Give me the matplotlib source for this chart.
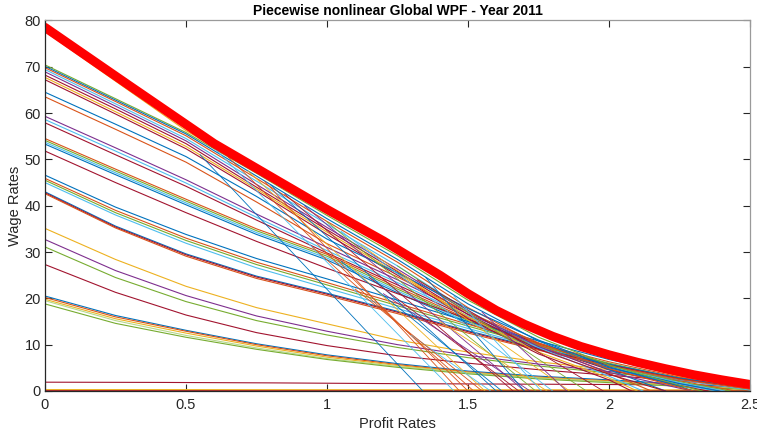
import matplotlib
matplotlib.use("Agg")
import matplotlib.pyplot as plt

# MATLAB default colour order
BLUE, ORANGE, YELLOW, PURPLE, GREEN, CYAN, DRED = (
    '#0072BD', '#D95319', '#EDB120', '#7E2F8E', '#77AC30', '#4DBEEE', '#A2142F')

# profit rates at which the curves were read
R_GRID = [0, 0.25, 0.5, 0.75, 1.0, 1.25, 1.5, 1.75, 2.0, 2.25, 2.5]

# global envelope (thick red)
envelope_r = [0, 0.3, 0.6, 0.8, 1.0, 1.2, 1.4, 1.5, 1.6, 1.7, 1.8, 1.9,
              2.0, 2.1, 2.2, 2.3, 2.4, 2.5]
envelope_w = [78.5, 65.9, 53.4, 46.3, 39.2, 32.4, 25.0, 21.0, 17.4, 14.4, 11.8, 9.6,
              7.8, 6.2, 4.8, 3.5, 2.4, 1.4]

# upper curves (start 63-78), wage values on R_GRID, then zero at end_r
top_w = [
    [77.6, 66.9, 56.2, 47.4, 38.4, 30.0, 20.2, 12.6, 7.0, 3.2, 0.6],
    [70.4, 63.1, 55.8, 47.0, 37.9, 29.2, 19.6, 11.6, 5.6, 1.2],
    [70.1, 62.8, 55.5, 46.4, 37.2, 28.4, 18.8, 10.8, 4.6],
    [69.8, 62.5, 55.1, 45.9, 36.6, 27.8, 18.0, 10.0, 3.8],
    [69.4, 62.0, 54.5, 45.3, 36.0, 27.0, 17.3, 9.4, 3.2],
    [68.9, 61.5, 54.0, 44.6, 35.3, 26.3, 17.0, 9.6, 4.0, 0.6],
    [68.2, 60.9, 53.4, 44.0, 34.8, 25.8, 16.5, 9.0, 3.6],
    [67.7, 60.3, 52.8, 43.6, 34.3, 25.4, 16.0, 8.4, 2.8],
    [67.2, 59.8, 52.3, 43.2, 33.8, 25.0, 15.6, 8.0, 2.4],
    [64.5, 57.6, 50.6, 42.0, 32.8, 25.5, 17.8, 11.0, 5.2, 1.0],
    [63.5, 56.5, 49.4, 40.8, 31.8, 24.6, 17.0, 10.4, 4.8, 0.8],
]
top_end = [None, 2.33, 2.2, 2.15, 2.12, 2.3, 2.2, 2.1, 2.08, 2.3, 2.3]
top_col = [YELLOW, GREEN, BLUE, ORANGE, CYAN, PURPLE, DRED, YELLOW, DRED, BLUE, ORANGE]

# middle curves (start 42-60)
mid_w = [
    [59.3, 52.5, 45.6, 38.2, 31.0, 24.0, 16.6, 10.2, 5.0, 1.6],
    [58.6, 51.8, 44.9, 37.5, 30.3, 23.4, 16.2, 9.9, 4.8, 1.4],
    [57.9, 51.0, 44.2, 36.9, 29.8, 22.9, 15.9, 9.6, 4.6, 1.2],
    [54.5, 47.9, 41.4, 35.0, 29.5, 22.4, 15.5, 10.2, 5.6, 2.2],
    [54.1, 47.5, 41.0, 34.6, 29.1, 22.0, 15.2, 9.9, 5.4, 2.0],
    [53.7, 47.1, 40.6, 34.2, 28.7, 21.6, 14.9, 9.6, 5.2, 1.8],
    [53.3, 46.7, 40.2, 33.8, 28.3, 21.2, 14.6, 9.3, 5.0, 1.6],
    [51.8, 45.0, 38.5, 32.3, 26.5, 21.0, 15.5, 10.3, 5.8, 2.4, 0.3],
    [46.6, 39.7, 33.8, 28.6, 24.2, 19.6, 15.0, 10.8, 6.8, 3.4, 0.8],
    [45.9, 39.0, 33.0, 27.8, 23.4, 18.9, 14.4, 10.2, 6.3, 3.0, 0.5],
    [45.5, 38.5, 32.5, 27.3, 22.9, 18.4, 14.0, 9.8, 6.0, 2.7, 0.3],
    [45.0, 38.0, 31.9, 26.6, 22.2, 17.8, 13.5, 9.4, 5.6, 2.4, 0.2],
    [43.0, 35.6, 29.6, 24.8, 21.1, 17.2, 13.0, 9.2, 5.8, 2.8, 0.6],
    [42.8, 35.4, 29.4, 24.6, 20.9, 17.0, 12.8, 9.0, 5.6, 2.6, 0.5],
    [42.6, 35.2, 29.1, 24.3, 20.6, 16.7, 12.5, 8.8, 5.4, 2.5, 0.4],
]
mid_end = [2.4, 2.38, 2.35, 2.45, 2.43, 2.41, 2.39, None, None, None, None, None, None, None, None]
mid_col = [PURPLE, CYAN, DRED, ORANGE, GREEN, CYAN, BLUE, DRED,
           BLUE, ORANGE, GREEN, CYAN, BLUE, DRED, ORANGE]

# lower curves (start 18-36)
low_w = [
    [35.1, 28.4, 22.6, 18.0, 14.5, 11.0, 8.4, 6.3, 4.6, 3.0, 1.6],
    [32.7, 26.0, 20.6, 16.2, 12.9, 10.0, 7.7, 5.8, 4.2, 2.8, 1.4],
    [31.1, 24.5, 19.3, 15.2, 12.1, 9.4, 7.2, 5.4, 3.9, 2.5, 1.2],
    [27.3, 21.3, 16.4, 12.6, 9.8, 7.6, 6.0, 4.6, 3.4, 2.2, 1.0],
    [20.5, 16.3, 13.1, 10.2, 7.8, 5.9, 4.3, 3.2, 2.4, 1.5, 0.7],
    [20.2, 16.0, 12.9, 10.0, 7.6, 5.7, 4.1, 3.0, 2.2, 1.3, 0.5],
    [19.8, 15.6, 12.5, 9.7, 7.3, 5.5, 4.0, 2.9, 2.1, 1.2, 0.4],
    [19.5, 15.2, 12.0, 9.3, 7.0, 5.3, 3.9, 2.8, 2.0, 1.1, 0.35],
    [18.8, 14.6, 11.6, 9.0, 6.8, 5.1, 3.7, 2.6, 1.8, 1.0, 0.3],
]
low_col = [YELLOW, PURPLE, GREEN, DRED, BLUE, ORANGE, YELLOW, '#B5D98A', GREEN]

# steep pieces: start (r, w) and profit rate where wage reaches zero
steep_r0 = [0.55, 0.60, 0.65, 0.72, 0.80, 0.85, 0.92, 1.00, 1.05, 1.12, 0.95, 1.05,
            1.15, 1.20, 0.78, 1.25, 1.32, 1.40, 1.30, 1.10, 1.45, 1.35, 1.55]
steep_w0 = [51.0, 52.5, 50.5, 47.5, 44.5, 42.5, 40.0, 36.5, 34.5, 31.5, 31.0, 28.0,
            24.5, 21.0, 45.2, 27.0, 24.0, 15.0, 12.0, 22.0, 20.5, 24.5, 17.0]
steep_r1 = [1.34, 1.45, 1.50, 1.56, 1.60, 1.66, 1.70, 1.74, 1.80, 1.86, 1.52, 1.62,
            1.68, 1.72, 1.47, 1.92, 1.98, 1.78, 1.58, 1.55, 1.76, 1.70, 1.85]
steep_col = [BLUE, CYAN, ORANGE, YELLOW, BLUE, DRED, PURPLE, GREEN, CYAN, YELLOW, ORANGE, BLUE,
             DRED, PURPLE, ORANGE, GREEN, DRED, YELLOW, CYAN, ORANGE, CYAN, BLUE, PURPLE]

# nearly flat curves at the bottom
flat_r = [0, 0.4, 0.8, 1.2, 1.6, 2.0, 2.5]
flat_hi = [1.9, 1.85, 1.75, 1.6, 1.5, 1.4, 1.2]
flat_lo = [0.3, 0.3, 0.28, 0.27, 0.26, 0.25, 0.24]
flat_base = [0.12, 0.12, 0.12, 0.12, 0.12, 0.12, 0.12]

fig = plt.figure(figsize=(7.57, 4.37), dpi=100)
ax = fig.add_axes([0.0594, 0.1053, 0.9314, 0.848])

LW = 0.8


def draw_group(values, ends, colors):
    for i, w in enumerate(values):
        r = R_GRID[:len(w)]
        w = list(w)
        if ends is not None and ends[i] is not None:
            r = r + [ends[i]]
            w = w + [0]
        ax.plot(r, w, color=colors[i], lw=LW)


ax.plot(flat_r, flat_base, color=DRED, lw=LW)
ax.plot(flat_r, flat_lo, color=YELLOW, lw=LW)
ax.plot(flat_r, flat_hi, color=DRED, lw=LW)
draw_group(low_w, None, low_col)
draw_group(mid_w, mid_end, mid_col)
draw_group(top_w, top_end, top_col)
for a, b, c, col in zip(steep_r0, steep_w0, steep_r1, steep_col):
    ax.plot([a, c], [b, 0], color=col, lw=0.6)

ax.plot(envelope_r, envelope_w, color='#FF0000', lw=6.5, solid_capstyle='round',
        solid_joinstyle='round')

ax.set_xlim(0, 2.5)
ax.set_ylim(0, 80)
ax.set_xticks([0, 0.5, 1, 1.5, 2, 2.5])
ax.set_xticklabels(['0', '0.5', '1', '1.5', '2', '2.5'])
ax.set_yticks(range(0, 81, 10))

font = 'Liberation Sans'
ax.tick_params(direction='in', length=5, width=0.8, top=True, right=True,
               labelsize=10.5, colors='#262626')
ax.tick_params(axis='x', pad=5)
ax.tick_params(axis='y', pad=3)
for lab in ax.get_xticklabels() + ax.get_yticklabels():
    lab.set_fontfamily(font)
for side in ['left', 'bottom']:
    ax.spines[side].set_color('#262626')
for side in ['top', 'right']:
    ax.spines[side].set_color('#9a9a9a')
for s in ax.spines.values():
    s.set_linewidth(0.9)

ax.set_title('Piecewise nonlinear Global WPF - Year 2011', fontsize=10,
             fontweight='bold', family=font, pad=4)
ax.set_xlabel('Profit Rates', fontsize=10.5, family=font, color='#262626', labelpad=4)
ax.set_ylabel('Wage Rates', fontsize=10.5, family=font, color='#262626', labelpad=2)

fig.savefig('out.png', dpi=100)
